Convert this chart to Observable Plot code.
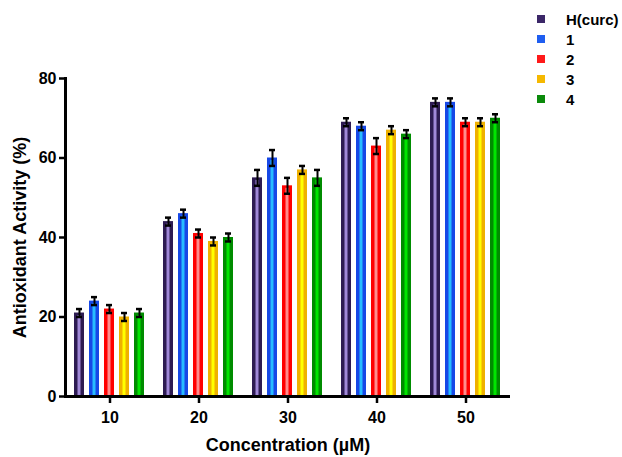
<!DOCTYPE html>
<html><head><meta charset="utf-8">
<script src="https://cdn.jsdelivr.net/npm/d3@7"></script>
<script src="https://cdn.jsdelivr.net/npm/@observablehq/plot@0.6"></script>
<style>
body{margin:0;background:#fff;font-family:"Liberation Sans",Arial,sans-serif;}
#wrap{position:relative;width:622px;height:457px;overflow:hidden;}
#legend{position:absolute;left:537px;top:9px;font-weight:bold;font-size:15px;color:#000;}
.item{display:flex;align-items:center;height:20px;}
.sw{width:8px;height:8px;margin-right:21px;}
svg{display:block;}
</style></head><body><div id="wrap"><div id="legend"></div></div>
<script>
const concentrations = ["10", "20", "30", "40", "50"];
const seriesNames = ["H(curc)", "1", "2", "3", "4"];
const valuesHcurc = [21, 44, 55, 69, 74];
const values1 = [24, 46, 60, 68, 74];
const values2 = [22, 41, 53, 63, 69];
const values3 = [20, 39, 57, 67, 69];
const values4 = [21, 40, 55, 66, 70];
const errHcurc = [1, 1, 2, 1, 1];
const err1 = [1, 1, 2, 1, 1];
const err2 = [1, 1, 2, 2, 1];
const err3 = [1, 1, 1, 1, 1];
const err4 = [1, 1, 2, 1, 1];
const yTicks = [0, 20, 40, 60, 80];
const darkColors = ["#2d1b52", "#1748e6", "#ff0000", "#efb100", "#008c00"];
const lightColors = ["#a088d8", "#28bcff", "#ff8c8c", "#ffff00", "#00e600"];
const legendColors = ["#3b2768", "#1f5ef0", "#ff1a1a", "#f5b800", "#0b8a0b"];

const allValues = [valuesHcurc, values1, values2, values3, values4];
const allErrs = [errHcurc, err1, err2, err3, err4];
const rows = seriesNames.flatMap((s, i) => concentrations.map((c, j) => ({
  conc: c, series: s, idx: i, value: allValues[i][j], err: allErrs[i][j]
})));

const chart = Plot.plot({
  width: 622, height: 457,
  marginLeft: 65, marginRight: 112, marginTop: 78, marginBottom: 61,
  style: {fontFamily: "'Liberation Sans', Arial, sans-serif", color: "#000", background: "#fff", overflow: "visible"},
  fx: {domain: concentrations, padding: 0, axis: null},
  x: {domain: seriesNames, paddingInner: 0.31, paddingOuter: 0.44, axis: null},
  y: {domain: [0, 80], axis: null},
  color: {type: "identity"},
  marks: [
    Plot.barY(rows, {fx: "conc", x: "series", y: "value", fill: d => darkColors[d.idx]}),
    Plot.barY(rows, {fx: "conc", x: "series", y: "value", fill: d => lightColors[d.idx], insetLeft: 3.5, insetRight: 3.5, insetTop: 2.5}),
    Plot.ruleX(rows, {fx: "conc", x: "series", y1: d => d.value - d.err, y2: d => d.value + d.err, stroke: "#000", strokeWidth: 2}),
    Plot.tickY(rows, {fx: "conc", x: "series", y: d => d.value - d.err, insetLeft: 2, insetRight: 2, stroke: "#000", strokeWidth: 2.5}),
    Plot.tickY(rows, {fx: "conc", x: "series", y: d => d.value + d.err, insetLeft: 2, insetRight: 2, stroke: "#000", strokeWidth: 2.5}),
    Plot.ruleY([0], {stroke: "#000", strokeWidth: 3}),
    Plot.frame({anchor: "left", facet: "super", stroke: "#000", strokeWidth: 3}),
    Plot.axisY({ticks: yTicks, tickSize: 6, tickPadding: 3, strokeWidth: 2.5, fontSize: 16, fontWeight: "bold",
      label: "Antioxidant Activity (%)", labelArrow: "none", labelAnchor: "center", labelOffset: 52}),
    Plot.axisFx({anchor: "bottom", tickSize: 7, tickPadding: 8, strokeWidth: 2.5, fontSize: 16, fontWeight: "bold",
      label: "Concentration (µM)", labelArrow: "none", labelAnchor: "center", labelOffset: 54})
  ]
});
const wrap = document.getElementById("wrap");
wrap.insertBefore(chart, wrap.firstChild);
// larger axis titles, and strip any arrow
chart.querySelectorAll("g[aria-label='y-axis label'] text, g[aria-label='fx-axis label'] text").forEach(t => {
  t.setAttribute("font-size", 18);
  t.textContent = t.textContent.replace(/\s*[↑↓←→]\s*/g, "");
});

const legend = document.getElementById("legend");
seriesNames.forEach((s, i) => {
  const it = document.createElement("div"); it.className = "item";
  const sw = document.createElement("span"); sw.className = "sw"; sw.style.background = legendColors[i];
  const tx = document.createElement("span"); tx.textContent = s;
  it.appendChild(sw); it.appendChild(tx); legend.appendChild(it);
});
</script></body></html>
